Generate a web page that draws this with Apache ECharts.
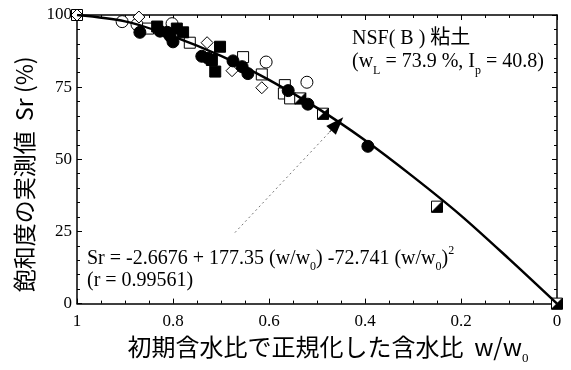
<!DOCTYPE html>
<html>
<head>
<meta charset="utf-8">
<script src="https://cdn.jsdelivr.net/npm/echarts@6/dist/echarts.min.js"></script>
<style>
    html, body { margin: 0; padding: 0; background: #fff; }
    #main { width: 571px; height: 370px; }
</style>
</head>
<body>
<div id="main"></div>
<script>
// fitted curve
var fitCurve = [[1, 100], [0.9, 97.8], [0.8, 92.6], [0.7, 85.8], [0.6, 77.5], [0.5, 67.8],
    [0.4, 56.6], [0.3, 44], [0.2, 30.5], [0.1, 15.5], [0, 0]];

// measured points, one array per marker type
var filledCircle = [[0.869, 94.0], [0.827, 94.4], [0.812, 94.0], [0.806, 92.7], [0.8, 90.7],
    [0.74, 85.7], [0.727, 85.0], [0.675, 84.1], [0.656, 82.1], [0.644, 79.7],
    [0.56, 73.8], [0.519, 69.1], [0.394, 54.5]];
var filledSquare = [[0.833, 96.0], [0.792, 95.3], [0.779, 94.0], [0.702, 89.0],
    [0.719, 84.4], [0.712, 80.4]];
var openSquare = [[1, 100], [0.852, 95.3], [0.765, 90.4], [0.654, 85.4], [0.615, 79.4],
    [0.567, 75.7], [0.569, 72.8], [0.556, 71.1]];
var openCircle = [[0.906, 97.7], [0.875, 96.7], [0.802, 97.0], [0.606, 83.7], [0.521, 76.7]];
var openDiamond = [[1, 100], [0.871, 99.3], [0.729, 90.4], [0.677, 80.7], [0.615, 74.8]];
var halfSquare = [[0.535, 71.1], [0.4875, 65.8], [0.25, 33.6], [0, 0]];

// dotted arrow from the equation to the curve
var arrowFrom = [0.671, 24.6];
var arrowHead = [0.474, 59.4];
var arrowTo = [0.458, 62.3];

var serif = 'Liberation Serif';
var cjk = 'Noto Sans CJK JP';

var myChart = echarts.init(document.getElementById('main'));

function frameAxis(pos, isX) {
    return {
        type: 'value', min: 0, max: isX ? 1 : 100, interval: isX ? 0.2 : 25,
        inverse: isX, position: pos,
        axisLine: { show: true, onZero: false, lineStyle: { color: '#000', width: 1.5 } },
        axisTick: { show: true, inside: true, length: 5, lineStyle: { color: '#000' } },
        minorTick: { show: true, splitNumber: isX ? 4 : 5, length: 3, lineStyle: { color: '#000' } },
        axisLabel: { show: false },
        splitLine: { show: false }
    };
}

var xMain = frameAxis('bottom', true);
xMain.axisLabel = { show: true, margin: 9, color: '#000', fontFamily: serif, fontSize: 17 };
xMain.name = '初期含水比で正規化した含水比  w/w{sub|0}';
xMain.nameLocation = 'middle';
xMain.nameGap = 23;
xMain.nameTextStyle = {
    color: '#000', fontFamily: cjk, fontSize: 24, padding: [0, 0, 0, 22],
    rich: { sub: { fontFamily: serif, fontSize: 13, padding: [24, 0, 0, 0], color: '#000' } }
};

var yMain = frameAxis('left', false);
yMain.axisLabel = { show: true, margin: 5, color: '#000', fontFamily: serif, fontSize: 17 };
yMain.name = '飽和度の実測値  Sr (%)';
yMain.nameLocation = 'middle';
yMain.nameGap = 41;
yMain.nameTextStyle = { color: '#000', fontFamily: cjk, fontSize: 23, padding: [0, 30, 0, 0] };

function scatter(data, symbol, size, fill) {
    return {
        type: 'scatter', data: data, symbol: symbol, symbolSize: size,
        itemStyle: { color: fill, borderColor: '#000', borderWidth: 1, opacity: 1 },
        silent: true
    };
}

var option = {
    animation: false,
    backgroundColor: '#fff',
    grid: { left: 77, right: 14, top: 15, bottom: 55 },
    xAxis: [xMain, frameAxis('top', true)],
    yAxis: [yMain, frameAxis('right', false)],
    series: [
        {
            type: 'line', data: fitCurve, smooth: 0.3, symbol: 'none',
            lineStyle: { color: '#000', width: 2.5 },
            markLine: {
                silent: true, symbol: 'none',
                label: { show: false },
                data: [
                    [{ coord: arrowFrom, lineStyle: { color: '#777', type: [2, 3], width: 1 } },
                        { coord: arrowHead }],
                    [{ coord: arrowHead, symbol: 'none', lineStyle: { color: '#000', type: 'solid', width: 1 } },
                        { coord: arrowTo, symbol: 'triangle', symbolSize: [13, 18] }]
                ]
            }
        },
        scatter(openCircle, 'circle', 12, '#fff'),
        scatter(openSquare, 'rect', 11, '#fff'),
        scatter(openDiamond, 'diamond', 12, '#fff'),
        scatter(filledCircle, 'circle', 12, '#000'),
        scatter(filledSquare, 'rect', 11, '#000'),
        scatter(halfSquare, 'rect', 11, '#fff'),
        scatter(halfSquare, 'path://M10,0L10,10L0,10Z', 11, '#000')
    ],
    graphic: [
        {
            type: 'text', left: 352, top: 29,
            style: { text: 'NSF( B ) 粘土', font: '20px "Liberation Serif", "Noto Sans CJK JP"', fill: '#000' }
        },
        {
            type: 'text', left: 352, top: 52,
            style: {
                text: '(w{sub|L} = 73.9 %, I{sub|p} = 40.8)',
                font: '20px "Liberation Serif"', fill: '#000',
                rich: { sub: { fontSize: 12, fontFamily: serif, padding: [17, 0, 0, 0] } }
            }
        },
        {
            type: 'text', left: 87, top: 245,
            style: {
                text: 'Sr = -2.6676 + 177.35 (w/w{sub|0}) -72.741 (w/w{sub|0}){sup|2}',
                font: '20px "Liberation Serif"', fill: '#000',
                rich: {
                    sub: { fontSize: 12, fontFamily: serif, padding: [17, 0, 0, 0] },
                    sup: { fontSize: 12, fontFamily: serif, padding: [0, 0, 15, 0] }
                }
            }
        },
        {
            type: 'text', left: 87, top: 271,
            style: { text: '(r = 0.99561)', font: '20px "Liberation Serif"', fill: '#000' }
        }
    ]
};

option && myChart.setOption(option);
window.onresize = myChart.resize;
</script>
</body>
</html>
